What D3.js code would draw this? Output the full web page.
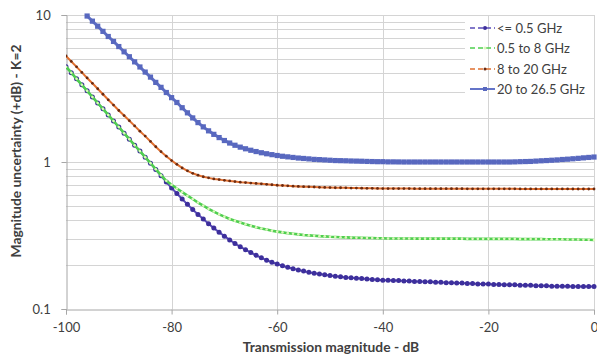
<!DOCTYPE html>
<html><head><meta charset="utf-8">
<script src="https://cdn.jsdelivr.net/npm/d3@7/dist/d3.min.js"></script>
<style>
html,body{margin:0;padding:0;background:#fff;}
svg{display:block;font-family:Lato,"Open Sans",sans-serif;}
</style></head>
<body><svg id="c" width="597" height="356"></svg>
<script>
// Transmission magnitude (dB), one point per dB
const xStart = -100;
const xTicks = [-100, -80, -60, -40, -20, 0];
const yTicks = [0.1, 1, 10];
const yTickLabels = ["0.1", "1", "10"];
const seriesNames = ["<= 0.5 GHz", "0.5 to 8 GHz", "8 to 20 GHz", "20 to 26.5 GHz"];

// <= 0.5 GHz  (-100 .. 0)
const s1 = [4.45,4.05,3.68,3.35,3.05,2.77,2.52,2.30,2.09,1.90,
 1.73,1.57,1.43,1.30,1.186,1.079,0.982,0.889,0.805,0.73,
 0.665,0.61,0.56,0.515,0.475,0.44,0.41,0.38,0.355,0.333,
 0.313,0.295,0.279,0.265,0.253,0.242,0.232,0.223,0.215,0.208,
 0.202,0.197,0.192,0.188,0.184,0.181,0.178,0.175,0.173,0.171,
 0.169,0.167,0.166,0.164,0.163,0.162,0.161,0.160,0.159,0.158,
 0.157,0.157,0.156,0.156,0.155,0.155,0.154,0.154,0.153,0.153,
 0.152,0.152,0.151,0.151,0.150,0.150,0.149,0.149,0.148,0.148,
 0.148,0.147,0.147,0.146,0.146,0.146,0.145,0.145,0.145,0.144,
 0.144,0.144,0.143,0.143,0.143,0.143,0.142,0.142,0.142,0.142,0.142];
// 0.5 to 8 GHz (-100 .. 0)
const s2 = [4.45,4.05,3.68,3.35,3.05,2.77,2.52,2.30,2.09,1.90,
 1.73,1.57,1.43,1.30,1.186,1.079,0.982,0.893,0.813,0.745,
 0.70,0.66,0.625,0.59,0.56,0.53,0.505,0.48,0.46,0.44,
 0.425,0.41,0.398,0.387,0.377,0.368,0.36,0.353,0.347,0.341,
 0.336,0.332,0.328,0.325,0.322,0.319,0.317,0.315,0.313,0.312,
 0.31,0.309,0.308,0.307,0.306,0.305,0.305,0.304,0.304,0.303,
 0.303,0.302,0.302,0.302,0.302,0.302,0.301,0.301,0.301,0.301,
 0.301,0.301,0.301,0.301,0.301,0.301,0.300,0.300,0.300,0.300,
 0.300,0.300,0.300,0.300,0.300,0.300,0.299,0.299,0.299,0.299,
 0.299,0.298,0.298,0.298,0.298,0.297,0.297,0.297,0.296,0.296,0.295];
// 8 to 20 GHz (-100 .. 0)
const s3 = [5.26,4.83,4.44,4.07,3.73,3.43,3.15,2.89,2.65,2.44,
 2.24,2.07,1.91,1.76,1.62,1.50,1.38,1.27,1.175,1.096,
 1.023,0.964,0.912,0.871,0.838,0.813,0.794,0.780,0.767,0.759,
 0.750,0.743,0.736,0.729,0.724,0.719,0.715,0.710,0.705,0.700,
 0.695,0.692,0.689,0.685,0.682,0.679,0.678,0.676,0.673,0.671,
 0.670,0.668,0.668,0.667,0.665,0.665,0.664,0.662,0.662,0.661,
 0.659,0.659,0.659,0.659,0.659,0.659,0.658,0.658,0.658,0.658,
 0.658,0.658,0.658,0.658,0.658,0.658,0.657,0.657,0.657,0.657,
 0.657,0.657,0.657,0.657,0.657,0.657,0.656,0.656,0.656,0.656,
 0.656,0.656,0.656,0.656,0.656,0.656,0.655,0.655,0.655,0.655,0.655];
// 20 to 26.5 GHz (-100 .. 0), above 10 off-chart
const s4 = [null,null,null,null,9.84,9.08,8.39,7.74,7.14,6.61,
 6.10,5.62,5.20,4.80,4.43,4.09,3.78,3.48,3.22,2.97,
 2.74,2.54,2.34,2.16,1.995,1.854,1.734,1.629,1.542,1.466,
 1.400,1.346,1.300,1.262,1.230,1.202,1.178,1.156,1.138,1.122,
 1.107,1.094,1.084,1.074,1.064,1.057,1.050,1.042,1.038,1.033,
 1.028,1.023,1.021,1.019,1.016,1.014,1.012,1.009,1.007,1.005,
 1.005,1.002,1.002,1.001,1.0,1.0,1.0,1.0,1.0,1.0,
 1.0,1.0,1.0,1.0,1.0,1.0,1.0,1.0,1.0,1.0,
 1.0,1.0,1.0,1.0,1.0,1.002,1.005,1.007,1.009,1.014,
 1.019,1.023,1.028,1.033,1.040,1.045,1.052,1.059,1.067,1.074,1.081];

const svg = d3.select("#c");
const L = 66, R = 594, T = 15, B = 309;
const x = d3.scaleLinear().domain([-100, 0]).range([L, R]);
const y = d3.scaleLog().domain([0.1, 10]).range([B, T]);

const gridC = "#d4d4d4", axisC = "#a6a6a6", textC = "#404040";

// horizontal gridlines (log minor)
const hLines = [];
[0.1, 1].forEach(dec => { for (let k = 1; k <= 9; k++) hLines.push(dec * k); });
hLines.push(10);
svg.append("g").selectAll("line").data(hLines.filter(v => v > 0.1)).join("line")
  .attr("x1", L).attr("x2", R).attr("y1", d => Math.round(y(d)) + 0.5).attr("y2", d => Math.round(y(d)) + 0.5)
  .attr("stroke", gridC).attr("stroke-width", 1);

// legend background
svg.append("rect").attr("x", 465).attr("y", 17).attr("width", R - 465).attr("height", 84).attr("fill", "#fff");

// vertical gridlines
svg.append("g").selectAll("line").data(xTicks.filter(d => d > -100)).join("line")
  .attr("x1", d => Math.round(x(d)) + 0.5).attr("x2", d => Math.round(x(d)) + 0.5)
  .attr("y1", T).attr("y2", B).attr("stroke", gridC);

// axes
const gx = svg.append("g").attr("transform", `translate(0,${B + 0.5})`)
  .call(d3.axisBottom(x).tickValues(xTicks).tickSize(5).tickFormat(d => d));
const gy = svg.append("g").attr("transform", `translate(${L + 0.5},0)`)
  .call(d3.axisLeft(y).tickValues(yTicks).tickSize(5).tickFormat((d, i) => yTickLabels[i]));
[gx, gy].forEach(g => {
  g.select(".domain").attr("stroke", axisC);
  g.selectAll(".tick line").attr("stroke", axisC);
  g.selectAll("text").attr("fill", textC).style("font-size", "13px").style("font-family", "Lato, sans-serif");
});
gx.selectAll("text").attr("dy", "1.1em");
gy.selectAll("text").attr("dx", "-0.6em");

// series
const xs = s1.map((_, i) => xStart + i);
const series = [
  {vals: s1, line: "#5a4cb8", lw: 2, mk: "circle", r: 2.5, mf: "#3d2f9c"},
  {vals: s2, line: "#4fcf4f", lw: 2.6, mk: "circle", r: 1.3, mf: "#dcf7bc"},
  {vals: s3, line: "#e07030", lw: 2, mk: "circle", r: 1.4, mf: "#6b2a10"},
  {vals: s4, line: "#6474c8", lw: 3, mk: "rect", r: 2.6, mf: "#5868bf"}
];
svg.append("clipPath").attr("id", "pc").append("rect")
  .attr("x", L).attr("y", T - 3).attr("width", R - L + 3).attr("height", B - T + 3);
const plot = svg.append("g").attr("clip-path", "url(#pc)");
const lineGen = d3.line().x(d => x(d[0])).y(d => y(d[1]));
series.forEach(s => {
  const pts = s.vals.map((v, i) => [xs[i], v]).filter(p => p[1] != null);
  plot.append("path").datum(pts).attr("d", lineGen).attr("fill", "none")
    .attr("stroke", s.line).attr("stroke-width", s.lw);
  const g = plot.append("g");
  if (s.mk === "circle") {
    g.selectAll("circle").data(pts).join("circle")
      .attr("cx", d => x(d[0])).attr("cy", d => y(d[1])).attr("r", s.r).attr("fill", s.mf);
  } else {
    g.selectAll("rect").data(pts).join("rect")
      .attr("x", d => x(d[0]) - s.r).attr("y", d => y(d[1]) - s.r)
      .attr("width", 2 * s.r).attr("height", 2 * s.r).attr("fill", s.mf);
  }
});

// legend
const lg = svg.append("g");
const rowsY = [28, 48, 69, 89];
series.forEach((s, i) => {
  const yy = rowsY[i];
  const ln = lg.append("line").attr("x1", 470).attr("x2", 495).attr("y1", yy).attr("y2", yy)
    .attr("stroke", s.line).attr("stroke-width", i === 3 ? 2 : 1.6);
  if (i < 3) ln.attr("stroke-dasharray", "5,3");
  if (s.mk === "circle") lg.append("circle").attr("cx", 485).attr("cy", yy).attr("r", Math.max(1.5, s.r - 0.5)).attr("fill", s.mf);
  else lg.append("rect").attr("x", 483).attr("y", yy - 2).attr("width", 4).attr("height", 4).attr("fill", s.mf);
  lg.append("text").attr("x", 497).attr("y", yy + 4.5).text(seriesNames[i])
    .attr("fill", textC).style("font-size", "13px");
});

// axis titles
svg.append("text").attr("x", 331).attr("y", 352).attr("text-anchor", "middle")
  .style("font-size", "13.8px").style("font-weight", "bold").attr("fill", textC)
  .text("Transmission magnitude - dB");
svg.append("text").attr("transform", "translate(21,151) rotate(-90)").attr("text-anchor", "middle")
  .style("font-size", "13.8px").style("font-weight", "bold").attr("fill", textC)
  .text("Magnitude  uncertainty (+dB) - K=2");
</script></body></html>
